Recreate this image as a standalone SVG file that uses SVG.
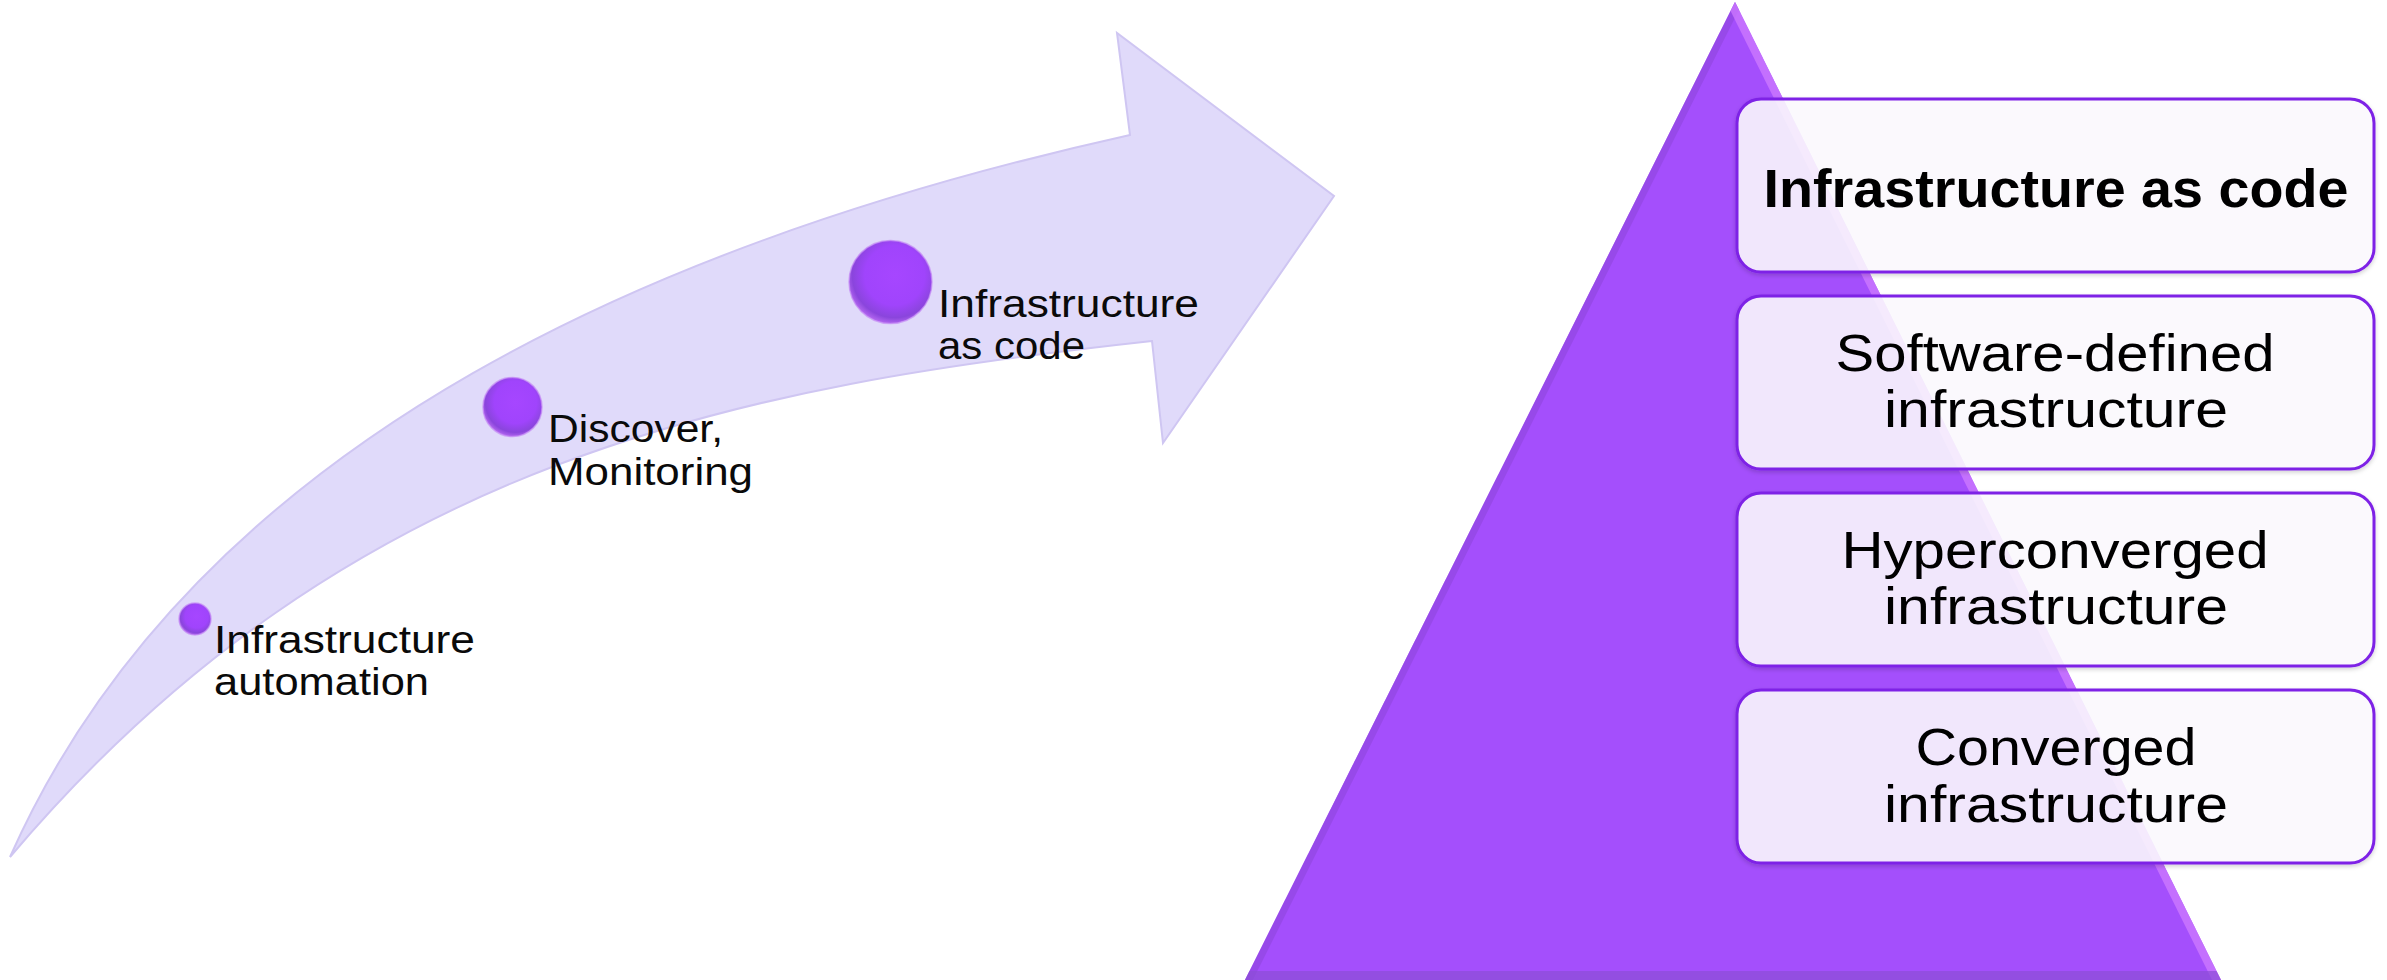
<svg xmlns="http://www.w3.org/2000/svg" width="2387" height="980" viewBox="0 0 2387 980">
<style>
.lbl{font-family:"Liberation Sans",Arial,sans-serif;font-size:38px;fill:#0a0a0a}
.bt{font-family:"Liberation Sans",Arial,sans-serif;font-size:52px;fill:#000;text-anchor:middle}
.bb{font-family:"Liberation Sans",Arial,sans-serif;font-size:53px;font-weight:bold;fill:#000;text-anchor:middle}
.box{fill:#fdfbff;fill-opacity:0.88;stroke:#7e22e6;stroke-width:3}
.dot{fill:url(#dotg);stroke:#c58af5;stroke-width:1.5;stroke-opacity:0.7}
</style>
<defs>
<radialGradient id="dotg" cx="0.55" cy="0.42" r="0.6">
<stop offset="0" stop-color="#a646ff"/>
<stop offset="0.6" stop-color="#a044fc"/>
<stop offset="0.85" stop-color="#8a45dc"/>
<stop offset="1" stop-color="#b86af2"/>
</radialGradient>
<clipPath id="triclip"><polygon points="1735,2 1245,980 2221,980"/></clipPath>
<filter id="sh" x="-5%" y="-10%" width="110%" height="125%">
<feDropShadow dx="0" dy="2" stdDeviation="2" flood-color="#000" flood-opacity="0.18"/>
</filter>
</defs>

<g id="arrow">
<path d="M10,857 C200,430 680,235 1130,135 L1117,33 L1334,196 L1163,443 L1152,341 C750,385 350,455 10,857 Z" fill="#e0dafa" stroke="#cfc6f2" stroke-width="2"/>
</g>

<g id="step1">
<circle class="dot" cx="195" cy="619" r="16"/>
<text class="lbl" x="214" y="653" textLength="261" lengthAdjust="spacingAndGlyphs">Infrastructure</text>
<text class="lbl" x="214" y="695" textLength="215" lengthAdjust="spacingAndGlyphs">automation</text>
</g>
<g id="step2">
<circle class="dot" cx="512.5" cy="407" r="29.5"/>
<text class="lbl" x="548" y="442" textLength="175" lengthAdjust="spacingAndGlyphs">Discover,</text>
<text class="lbl" x="548" y="485" textLength="205" lengthAdjust="spacingAndGlyphs">Monitoring</text>
</g>
<g id="step3">
<circle class="dot" cx="890.5" cy="282" r="41.5"/>
<text class="lbl" x="938" y="317" textLength="261" lengthAdjust="spacingAndGlyphs">Infrastructure</text>
<text class="lbl" x="938" y="359" textLength="147" lengthAdjust="spacingAndGlyphs">as code</text>
</g>

<g id="pyramid">
<polygon points="1735,2 1245,980 2221,980" fill="#a44ffc"/>
<g clip-path="url(#triclip)">
<line x1="1735" y1="2" x2="1245" y2="980" stroke="#8f46dc" stroke-width="14" stroke-opacity="0.6"/>
<line x1="1735" y1="2" x2="2221" y2="980" stroke="#cf7bff" stroke-width="16" stroke-opacity="0.75"/>
<line x1="1245" y1="980" x2="2221" y2="980" stroke="#8c4ed6" stroke-width="18" stroke-opacity="0.7"/>
</g>
</g>

<g id="layer1" filter="url(#sh)">
<rect class="box" x="1737" y="99" width="637" height="173" rx="24"/>
<text class="bb" x="2056" y="207" textLength="585" lengthAdjust="spacingAndGlyphs">Infrastructure as code</text>
</g>
<g id="layer2" filter="url(#sh)">
<rect class="box" x="1737" y="296" width="637" height="173" rx="24"/>
<text class="bt" x="2055" y="371" textLength="439" lengthAdjust="spacingAndGlyphs">Software-defined</text>
<text class="bt" x="2056" y="427" textLength="344" lengthAdjust="spacingAndGlyphs">infrastructure</text>
</g>
<g id="layer3" filter="url(#sh)">
<rect class="box" x="1737" y="493" width="637" height="173" rx="24"/>
<text class="bt" x="2055" y="568" textLength="427" lengthAdjust="spacingAndGlyphs">Hyperconverged</text>
<text class="bt" x="2056" y="624" textLength="344" lengthAdjust="spacingAndGlyphs">infrastructure</text>
</g>
<g id="layer4" filter="url(#sh)">
<rect class="box" x="1737" y="690" width="637" height="173" rx="24"/>
<text class="bt" x="2056" y="765" textLength="281" lengthAdjust="spacingAndGlyphs">Converged</text>
<text class="bt" x="2056" y="822" textLength="344" lengthAdjust="spacingAndGlyphs">infrastructure</text>
</g>
<g id="connectors"></g>
</svg>
